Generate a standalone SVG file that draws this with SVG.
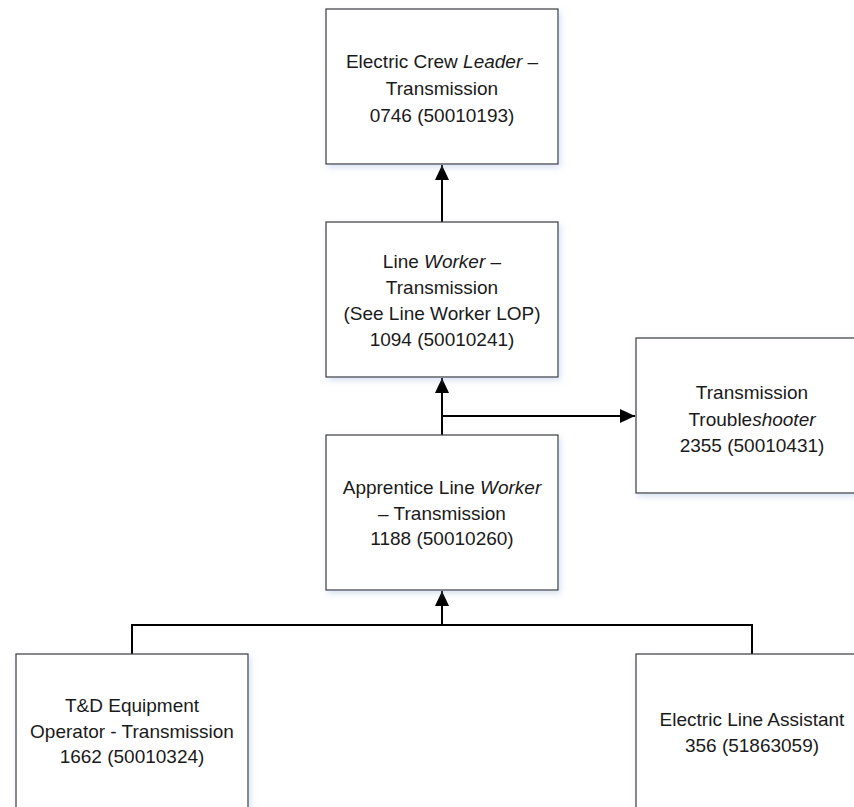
<svg xmlns="http://www.w3.org/2000/svg" width="854" height="807" viewBox="0 0 854 807">
<defs>
<style>
.box{fill:#ffffff;stroke:#3a3a3a;stroke-width:1.2;filter:url(#sh)}
.t{font-family:"Liberation Sans",Arial,sans-serif;font-size:19px;fill:#1a1a1a;text-anchor:middle}
.i{font-style:italic}
.c{fill:none;stroke:#000;stroke-width:2}
</style>
<filter id="sh" x="-10%" y="-10%" width="130%" height="130%">
<feDropShadow dx="2" dy="3" stdDeviation="3" flood-color="#8fa8d8" flood-opacity="0.35"/>
</filter>
<marker id="ah" markerUnits="userSpaceOnUse" markerWidth="16" markerHeight="16" viewBox="0 0 16 16" refX="15" refY="8" orient="auto">
<path d="M0,1 L15,8 L0,15 Z" fill="#000"/>
</marker>
</defs>
<rect width="854" height="807" fill="#ffffff"/>
<g id="connectors">
<path class="c" d="M442,222 L442,165" marker-end="url(#ah)"/>
<path class="c" d="M442,435 L442,378" marker-end="url(#ah)"/>
<path class="c" d="M442,416 L635,416" marker-end="url(#ah)"/>
<path class="c" d="M132,654 L132,625 L752,625 L752,654"/>
<path class="c" d="M442,625 L442,591" marker-end="url(#ah)"/>
</g>
<g id="leader">
<rect class="box" x="326" y="9" width="232" height="155"/>
<text class="t" x="442" y="68">Electric Crew <tspan class="i">Leader</tspan> –</text>
<text class="t" x="442" y="95">Transmission</text>
<text class="t" x="442" y="122">0746 (50010193)</text>
</g>
<g id="lineworker">
<rect class="box" x="326" y="222" width="232" height="155"/>
<text class="t" x="442" y="268">Line <tspan class="i">Worker</tspan> –</text>
<text class="t" x="442" y="294">Transmission</text>
<text class="t" x="442" y="320">(See Line Worker LOP)</text>
<text class="t" x="442" y="346">1094 (50010241)</text>
</g>
<g id="troubleshooter">
<rect class="box" x="636" y="338" width="232" height="155"/>
<text class="t" x="752" y="399">Transmission</text>
<text class="t" x="752" y="426">Trouble<tspan class="i">shooter</tspan></text>
<text class="t" x="752" y="452">2355 (50010431)</text>
</g>
<g id="apprentice">
<rect class="box" x="326" y="435" width="232" height="155"/>
<text class="t" x="442" y="494">Apprentice Line <tspan class="i">Worker</tspan></text>
<text class="t" x="442" y="520">– Transmission</text>
<text class="t" x="442" y="545">1188 (50010260)</text>
</g>
<g id="operator">
<rect class="box" x="16" y="654" width="232" height="160"/>
<text class="t" x="132" y="712">T&amp;D Equipment</text>
<text class="t" x="132" y="738">Operator - Transmission</text>
<text class="t" x="132" y="763">1662 (50010324)</text>
</g>
<g id="assistant">
<rect class="box" x="636" y="654" width="232" height="160"/>
<text class="t" x="752" y="726">Electric Line Assistant</text>
<text class="t" x="752" y="752">356 (51863059)</text>
</g>
</svg>
